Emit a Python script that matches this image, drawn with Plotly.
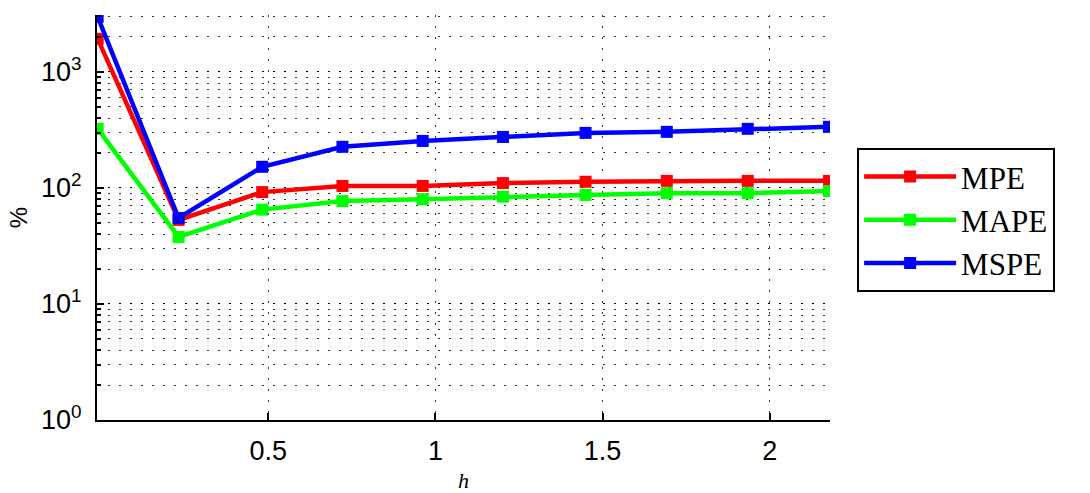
import plotly.graph_objects as go

h = [-0.01, 0.232, 0.482, 0.722, 0.962, 1.202, 1.449, 1.692, 1.934, 2.177]
mpe = [1925, 53, 92, 104, 104, 110, 113, 115, 115, 115]
mape = [323, 37.8, 65, 77, 80, 84, 87, 90, 90, 94]
mspe = [2980, 55, 152, 226, 254, 275, 298, 304, 323, 336]

series = [("MPE", mpe, "#ff0000"), ("MAPE", mape, "#00ff00"), ("MSPE", mspe, "#0000ff")]

x_ticks = [0.5, 1, 1.5, 2]
x_ticktext = ["0.5", "1", "1.5", "2"]
y_ticks = [1, 10, 100, 1000]
y_ticktext = ["10<sup>0</sup>", "10<sup>1</sup>", "10<sup>2</sup>", "10<sup>3</sup>"]
y_minor = [m * d for d in (1, 10, 100, 1000) for m in (2, 3, 4, 5, 6, 7, 8, 9)]

fig = go.Figure()
for name, vals, col in series:
    fig.add_trace(go.Scatter(
        x=h, y=vals, name=name, mode="lines+markers",
        line=dict(color=col, width=4.5),
        marker=dict(symbol="square", size=12, color=col),
    ))

grid_dash = "2px,9px"
tick_font = dict(family="Liberation Sans, Arial, sans-serif", size=27, color="black")
fig.update_layout(
    width=1090, height=493,
    margin=dict(l=97, r=260, t=15, b=73, autoexpand=False),
    paper_bgcolor="white", plot_bgcolor="white",
    showlegend=True,
    legend=dict(
        x=1.037, y=0.672, xanchor="left", yanchor="top",
        bordercolor="black", borderwidth=2, bgcolor="white",
        font=dict(family="Liberation Serif, Times New Roman, serif", size=31, color="black"),
        itemwidth=92, tracegroupgap=0,
    ),
    xaxis=dict(
        range=[-0.012, 2.18], automargin=False,
        tickvals=x_ticks, ticktext=x_ticktext,
        ticks="inside", ticklen=7, tickwidth=1.5, tickcolor="black",
        showline=True, linecolor="black", linewidth=2, mirror=False,
        showgrid=True, gridcolor="#333333", gridwidth=1, griddash=grid_dash,
        zeroline=False,
        tickfont=tick_font,
        ticklabelstandoff=6,
        title=dict(text="<i>h</i>", font=dict(family="Liberation Serif, Times New Roman, serif", size=22, color="black"), standoff=9),
    ),
    yaxis=dict(
        type="log", range=[0, 3.49], automargin=False,
        tickvals=y_ticks, ticktext=y_ticktext,
        ticks="inside", ticklen=7, tickwidth=2, tickcolor="black",
        showline=True, linecolor="black", linewidth=2, mirror=False,
        showgrid=True, gridcolor="black", gridwidth=1.3, griddash=grid_dash,
        zeroline=False,
        minor=dict(tickmode="array", tickvals=y_minor,
                   ticks="inside", ticklen=4, tickcolor="black", tickwidth=1.5,
                   showgrid=True, gridcolor="#333333", gridwidth=1, griddash=grid_dash),
        tickfont=tick_font,
        ticklabelstandoff=8,
        title=dict(text="%", font=dict(family="Liberation Sans, Arial, sans-serif", size=24, color="black"), standoff=7),
    ),
)

fig.write_html("out.html")
